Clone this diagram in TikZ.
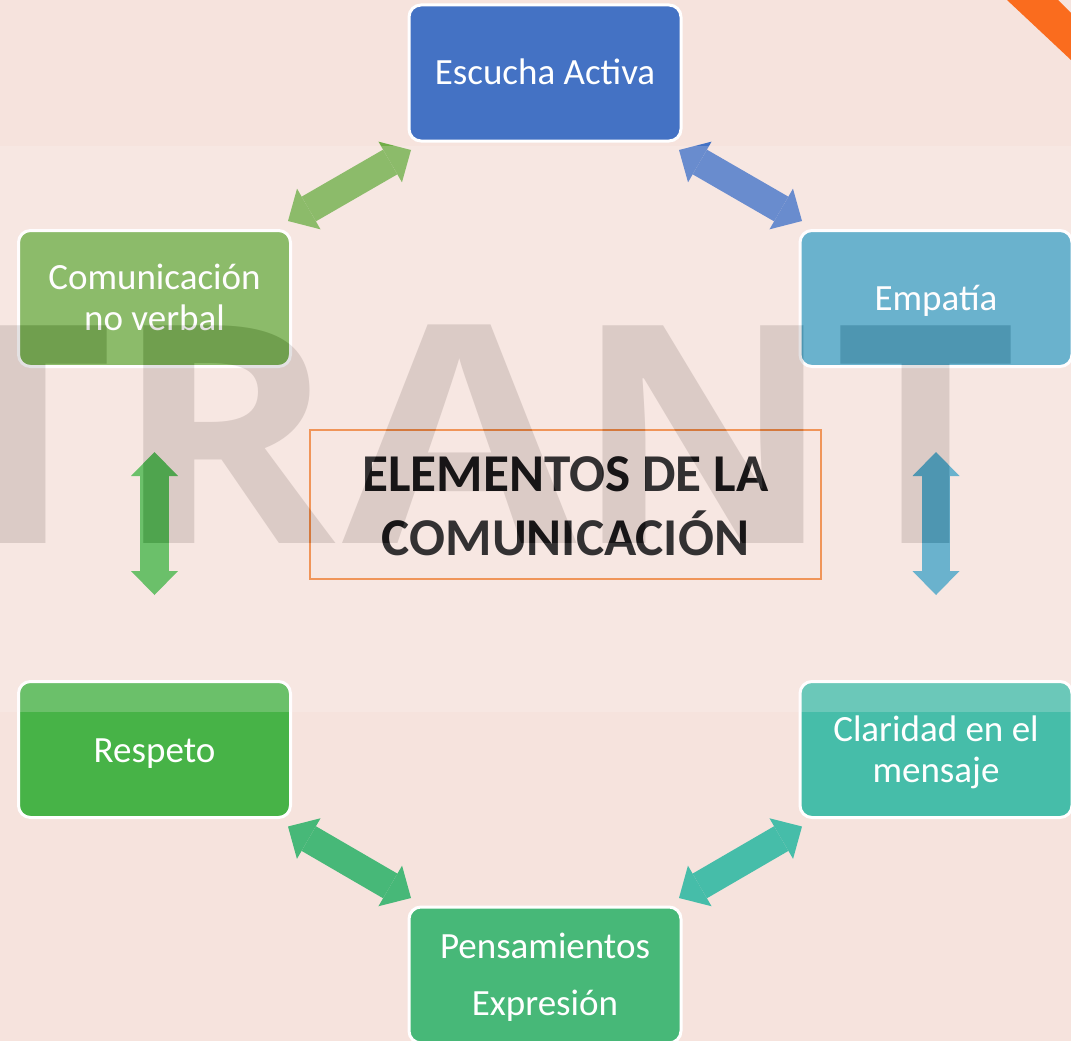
\documentclass[tikz,border=0pt]{standalone}
\usepackage{fontspec}
\setmainfont{Carlito}
\newfontfamily\wmfont{Open Sans}
\usetikzlibrary{arrows.meta,calc}
\definecolor{pagebg}{HTML}{F6E3DD}
\definecolor{cblue}{HTML}{4472C4}
\definecolor{cgreen}{HTML}{70AD47}
\definecolor{csky}{HTML}{45A1C2}
\definecolor{cteal}{HTML}{46BDA9}
\definecolor{cgrass}{HTML}{47B347}
\definecolor{cmint}{HTML}{47B878}
\definecolor{corange}{HTML}{ED7D31}
\definecolor{cstripe}{HTML}{FA6C1E}
\definecolor{cmark}{HTML}{1C1C1C}
\definecolor{cveil}{HTML}{FFF7FA}
\tikzset{
  card/.style={draw=white,line width=3pt,rounded corners=12pt,minimum width=272pt,minimum height=136pt,
    inner sep=0pt,outer sep=0pt},
  cardtext/.style={inner sep=0pt,outer sep=0pt,text=white,align=center,font=\fontsize{37}{41}\selectfont},
  link/.style={line width=28.5pt,draw=#1,
    {Triangle[length=24pt,width=47pt,line width=0pt]}-{Triangle[length=24pt,width=47pt,line width=0pt]}},
  titlebox/.style={draw=corange,line width=1.5pt,minimum width=511pt,minimum height=149pt,inner sep=0pt,outer sep=0pt},
  titletext/.style={inner sep=0pt,outer sep=0pt,align=center,font=\fontsize{53.2}{64}\selectfont\bfseries,text=black},
  markletter/.style={anchor=base,inner sep=0pt,outer sep=0pt,text=cmark,font=\wmfont\bfseries\fontsize{305}{305}\selectfont}
}
\begin{document}
\begin{tikzpicture}[x=1pt,y=-1pt]
\path[use as bounding box,clip] (0,0) rectangle (1071,1041);
\fill[pagebg] (0,0) rectangle (1071,1041);
\fill[cstripe] (1007,0) -- (1058,0) -- (1071,13) -- (1071,60) -- cycle;
% boxes
\node[card,fill=cblue,label={[cardtext,yshift=1pt]center:Escucha Activa}] (top) at (545,73) {};
\node[card,fill=cgreen,label={[cardtext,yshift=1pt]center:Comunicación\\no verbal}] (left) at (154.5,298.5) {};
\node[card,fill=csky,label={[cardtext,yshift=-2pt]center:Empatía}] (right) at (936,298.5) {};
\node[card,fill=cgrass,label={[cardtext,yshift=-4pt]center:Respeto}] (respeto) at (154.5,749.5) {};
\node[card,fill=cteal,label={[cardtext,yshift=-2.5pt]center:Claridad en el\\mensaje}] (claridad) at (936,749.5) {};
\node[card,fill=cmint,label={[cardtext,yshift=-2pt,font=\fontsize{37}{57}\selectfont]center:Pensamientos\\Expresión}] (bottom) at (545,975) {};
\node[titlebox,label={[titletext,yshift=-2pt]center:ELEMENTOS DE LA\\COMUNICACIÓN}] (title) at (565.5,504.5) {};
% arrow ends
\coordinate (a1) at ($(top.south west)+(2,9)$);
\coordinate (a2) at ($(left.north east)+(-2.5,-9.5)$);
\coordinate (b1) at ($(top.south east)+(-2,9)$);
\coordinate (b2) at ($(right.north west)+(2,-9.5)$);
\coordinate (c1) at ($(claridad.south west)+(2,9)$);
\coordinate (c2) at ($(bottom.north east)+(-2,-9)$);
\coordinate (d1) at ($(respeto.south east)+(-2.5,9)$);
\coordinate (d2) at ($(bottom.north west)+(2,-9)$);
\coordinate (e1) at ($(left.south)+(0,85.5)$);
\coordinate (e2) at ($(respeto.north)+(0,-86.5)$);
\coordinate (f1) at ($(right.south)+(0,85.5)$);
\coordinate (f2) at ($(claridad.north)+(0,-86.5)$);
\draw[link=cgreen] (a1) -- (a2);
\draw[link=cblue] (b1) -- (b2);
\draw[link=cteal] (c1) -- (c2);
\draw[link=cmint] (d1) -- (d2);
\draw[link=cgrass] (e1) -- (e2);
\draw[link=csky] (f1) -- (f2);
% light band on top of everything
\fill[cveil,opacity=0.2] (0,146) rectangle (1071,712);
% watermark
\begin{scope}[blend mode=difference]
\node[markletter] (m1) at (22,543) {\scalebox{1.036}[1]{T}};
\node[markletter] (m2) at (225,543) {\scalebox{1.105}[1]{R}};
\node[markletter] (m3) at (460,543) {\scalebox{1.114}[1]{A}};
\node[markletter] (m4) at (703.5,543) {\scalebox{1.04}[1]{N}};
\node[markletter] (m5) at (926,543) {\scalebox{1.036}[1]{T}};
\end{scope}
\end{tikzpicture}
\end{document}
